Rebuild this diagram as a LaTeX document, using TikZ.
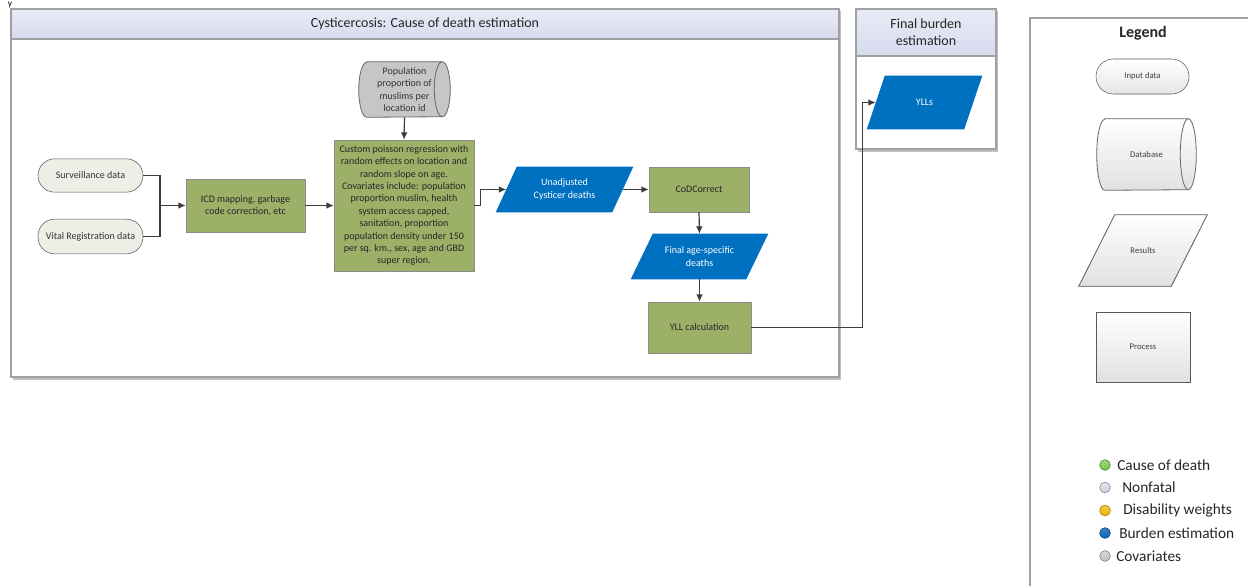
\documentclass[tikz,border=0pt]{standalone}
\usepackage{fontspec}
\setmainfont{Carlito}
\usetikzlibrary{calc,arrows.meta,backgrounds}

\definecolor{procgreen}{RGB}{157,176,104}
\definecolor{resblue}{RGB}{0,112,192}
\definecolor{dbgray}{RGB}{198,198,198}
\definecolor{linegray}{RGB}{60,60,60}
\definecolor{framegray}{RGB}{160,160,160}
\definecolor{headtop}{RGB}{232,235,246}
\definecolor{headbot}{RGB}{214,219,238}
\definecolor{pillfill}{RGB}{238,238,230}
\definecolor{dotgreen}{RGB}{120,196,72}
\definecolor{dotlilac}{RGB}{204,204,222}
\definecolor{dotamber}{RGB}{240,180,0}
\definecolor{dotblue}{RGB}{10,100,180}
\definecolor{dotgray}{RGB}{190,190,190}

\tikzset{
  txt/.style={font=\fontsize{7.5}{9.3}\selectfont, align=center, inner sep=0pt},
  pill/.style={txt, draw=black!65, fill=pillfill, rounded corners=12.5pt, text=black!80},
  proc/.style={txt, draw=black!45, fill=procgreen, text=black!85},
  slanted/.style={txt, text=white},
  legtxt/.style={txt, font=\fontsize{6.5}{8}\selectfont, text=black!75},
  conn/.style={draw=linegray, line width=0.9pt},
  arr/.style={conn, -{Latex[length=5.5pt,width=5pt]}},
  dot/.style={circle, minimum size=8pt, inner sep=0pt, line width=0.5pt},
  dotlabel/.style={anchor=west, inner sep=0pt, font=\fontsize{11.5}{13}\selectfont, text=black!85},
  head/.style={font=\fontsize{10.5}{12.5}\selectfont, align=center, inner sep=0pt, text=black!85}
}

\begin{document}
\begin{tikzpicture}[x=0.75pt,y=-0.75pt]
\useasboundingbox (0,0) rectangle (1248,585);

% small caption mark above the frame
\node[anchor=north, inner sep=0pt, font=\fontsize{7}{7}\selectfont] (frag) at (10,1.5) {y};

% ---------------- frames (lowest layer) ----------------
\begin{pgfonlayer}{background}
  \fill[black!25] (13,11) rectangle (841,380);
  \draw[framegray, fill=white, line width=0.8pt] (11,9) rectangle (839,377);
  \shade[top color=headtop, bottom color=headbot, draw=framegray, line width=0.8pt] (11,9) rectangle (839,39);
  \fill[black!25] (858,11) rectangle (998,152);
  \draw[framegray, fill=white, line width=0.8pt] (856,9) rectangle (996,149);
  \shade[top color=headtop, bottom color=headbot, draw=framegray, line width=0.8pt] (856,9) rectangle (996,56);
  \draw[framegray, line width=0.8pt] (1030,600) -- (1030,18) -- (1260,18);
\end{pgfonlayer}

\node[head] (title) at (425,24) {Cysticercosis: Cause of death estimation};
\node[head] (burden) at (926,32.5) {Final burden\\estimation};
\node[head, font=\bfseries\fontsize{12}{14}\selectfont] (legend) at (1143,33) {Legend};

% ---------------- flow nodes ----------------
\node[pill, minimum width=78.75pt, minimum height=25pt] (surv) at (90.5,175.5) {Surveillance data};
\node[pill, minimum width=78.75pt, minimum height=26pt] (vr) at (90.5,236.5) {Vital Registration data};
\node[proc, minimum width=89.25pt, minimum height=39.75pt] (icd) at (245.5,205.5) {ICD mapping, garbage\\code correction, etc};
\node[proc, minimum width=105pt, minimum height=98.25pt] (model) at (404,205.5)
  {Custom poisson regression with\\random effects on location and\\random slope on age.\\Covariates include: population\\proportion muslim, health\\system access capped,\\sanitation, proportion\\population density under 150\\per sq. km., sex, age and GBD\\super region.};
\node[txt, text=black!80, minimum width=68.25pt, minimum height=41.25pt] (pop) at (404.5,89.5)
  {Population\\proportion of\\muslims per\\location id};
\node[slanted, minimum width=87pt, minimum height=33.75pt] (unadj) at (564.5,189.5) {Unadjusted\\Cysticer deaths};
\node[proc, minimum width=75pt, minimum height=33.75pt] (cod) at (699,189.5) {CoDCorrect};
\node[slanted, minimum width=86.25pt, minimum height=33.75pt] (final) at (699.5,256.5) {Final age-specific\\deaths};
\node[proc, minimum width=77.25pt, minimum height=38.25pt] (yll) at (699.5,327.5) {YLL calculation};
\node[slanted, minimum width=72.75pt, minimum height=39.75pt] (ylls) at (924.5,102.5) {YLLs};

% ---------------- legend shapes ----------------
\node[legtxt, draw=black!65, top color=white, bottom color=black!10, rounded corners=13pt,
      minimum width=69.75pt, minimum height=26.25pt] (lin) at (1142.5,76.5) {Input data};
\node[legtxt, minimum width=74.25pt, minimum height=53.25pt] (ldb) at (1146.5,154.5) {Database};
\node[legtxt, minimum width=69pt, minimum height=53.25pt] (lres) at (1143,250.5) {Results};
\node[legtxt, draw=black!65, top color=white, bottom color=black!12,
      minimum width=70.5pt, minimum height=52.5pt] (lproc) at (1143,347) {Process};

% shapes drawn behind their labels, above the frames
\begin{pgfonlayer}{background}
  % database cylinders
  \path[fill=dbgray, draw=black!60, line width=0.6pt]
    ($(pop.north west)+(8,0)$) -- ($(pop.north east)+(-8,0)$)
    arc[start angle=-90, end angle=90, x radius=8, y radius=27.5]
    -- ($(pop.south west)+(8,0)$)
    arc[start angle=90, end angle=270, x radius=8, y radius=27.5] -- cycle;
  \draw[black!60, line width=0.6pt] ($(pop.north east)+(-8,0)$)
    arc[start angle=270, end angle=90, x radius=8, y radius=27.5];
  \path[top color=white, bottom color=black!12, draw=black!60, line width=0.6pt]
    ($(ldb.north west)+(8,0)$) -- ($(ldb.north east)+(-8,0)$)
    arc[start angle=-90, end angle=90, x radius=8, y radius=35.5]
    -- ($(ldb.south west)+(8,0)$)
    arc[start angle=90, end angle=270, x radius=8, y radius=35.5] -- cycle;
  \draw[black!60, line width=0.6pt] ($(ldb.north east)+(-8,0)$)
    arc[start angle=270, end angle=90, x radius=8, y radius=35.5];
  % result parallelograms
  \fill[resblue] ($(unadj.south west)+(-10.5,0)$) -- ($(unadj.north west)+(10.5,0)$)
    -- ($(unadj.north east)+(10.5,0)$) -- ($(unadj.south east)+(-10.5,0)$) -- cycle;
  \fill[resblue] ($(final.south west)+(-11,0)$) -- ($(final.north west)+(11,0)$)
    -- ($(final.north east)+(11,0)$) -- ($(final.south east)+(-11,0)$) -- cycle;
  \fill[resblue] ($(ylls.south west)+(-9,0)$) -- ($(ylls.north west)+(9,0)$)
    -- ($(ylls.north east)+(9,0)$) -- ($(ylls.south east)+(-9,0)$) -- cycle;
  \path[top color=white, bottom color=black!12, draw=black!65, line width=0.6pt]
    ($(lres.south west)+(-18,0)$) -- ($(lres.north west)+(18,0)$)
    -- ($(lres.north east)+(18,0)$) -- ($(lres.south east)+(-18,0)$) -- cycle;
\end{pgfonlayer}

% ---------------- connectors ----------------
\coordinate (join) at (160,205.5);
\draw[conn] (surv.east) -| (join);
\draw[conn] (vr.east) -| (join);
\draw[arr] (join) -- (icd.west);
\draw[arr] (icd.east) -- (model.west);
\draw[arr] (pop.south) -- (model.north);
\draw[arr] (model.east) -- ++(6,0) |- (unadj.west);
\draw[arr] (unadj.east) -- (cod.west);
\draw[arr] (cod.south) -- (final.north);
\draw[arr] (final.south) -- (yll.north);
\draw[arr] (yll.east) -- ++(111,0) |- (ylls.west);

% ---------------- colour key ----------------
\node[dot, draw=dotgreen!70!black, top color=dotgreen!70!white, bottom color=dotgreen] (kc) at (1105,465) {};
\node[dot, draw=dotlilac!70!black, top color=dotlilac!50!white, bottom color=dotlilac] (kn) at (1105,487.5) {};
\node[dot, draw=dotamber!70!black, top color=dotamber!70!white, bottom color=dotamber] (kd) at (1105,510.5) {};
\node[dot, draw=dotblue!70!black, top color=dotblue!80!white, bottom color=dotblue] (kb) at (1105,533) {};
\node[dot, draw=dotgray!70!black, top color=dotgray!60!white, bottom color=dotgray] (kv) at (1105,556) {};
\node[dotlabel] (lc) at (1117,465) {Cause of death};
\node[dotlabel] (ln) at (1122,487.5) {Nonfatal};
\node[dotlabel] (ld) at (1123,510.5) {Disability weights};
\node[dotlabel] (lb) at (1119,533) {Burden estimation};
\node[dotlabel] (lv) at (1116,556) {Covariates};
\end{tikzpicture}
\end{document}
